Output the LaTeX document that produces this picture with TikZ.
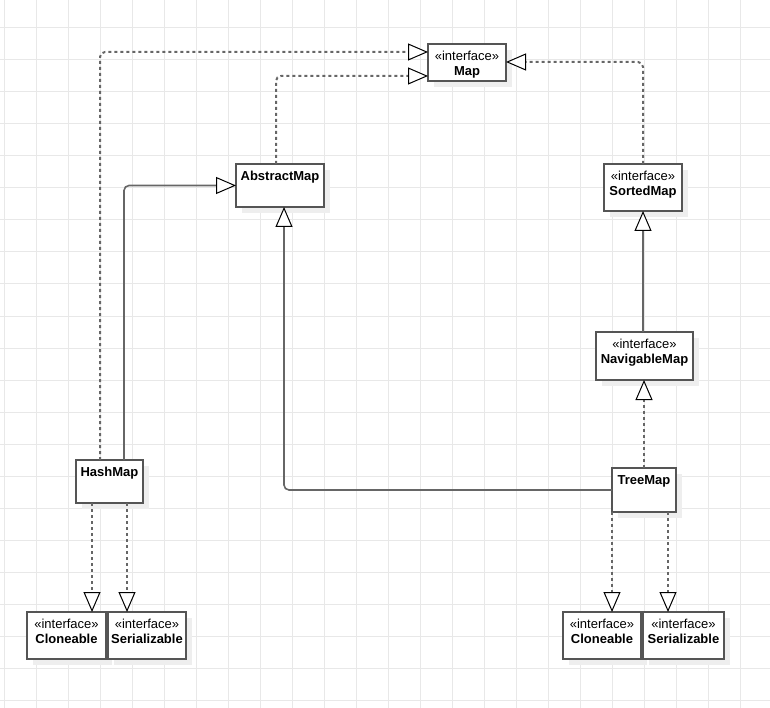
\documentclass[tikz,border=0pt]{standalone}
\usepackage{fontspec}
\setmainfont{Liberation Sans}
\usetikzlibrary{arrows.meta,shadows}
\definecolor{gridgray}{HTML}{E8E8E8}
\definecolor{linegray}{HTML}{666666}
\definecolor{boxgray}{HTML}{555555}
\definecolor{shadegray}{HTML}{EEEEEE}

\begin{document}
\begin{tikzpicture}[x=1pt, y=-1pt,
  every node/.style = {font=\fontsize{13}{14.5}\selectfont},
  cls/.style = {shape=rectangle, draw=boxgray, line width=1.6pt, fill=white,
    anchor=north west, inner sep=0pt, outer sep=0pt,
    drop shadow={shadow xshift=6pt, shadow yshift=-6pt, fill=shadegray, opacity=1}},
  txt/.style = {anchor=north, align=center, inner sep=0pt, yshift=-7pt},
  inherit/.style = {draw=linegray, line width=1.6pt, rounded corners=5pt,
    -{Triangle[length=20pt, width=17pt, fill=white, color=black, line width=1pt]}},
  realize/.style = {inherit, line width=2pt, dash pattern=on 3pt off 3pt}]
  \useasboundingbox (0,0) rectangle (770,708);
  \foreach \x in {4,36,...,772}
    \draw[gridgray, line width=1pt] (\x,0) -- (\x,708);
  \foreach \y in {28,60,...,700}
    \draw[gridgray, line width=1pt] (0,\y) -- (770,\y);

  \node[cls, minimum width=78, minimum height=37,
    label={[txt]north:{«interface»\\\textbf{Map}}}] (map) at (428,44) {};
  \node[cls, minimum width=88, minimum height=43,
    label={[txt]north:{\textbf{AbstractMap}}}] (abstract) at (236,164) {};
  \node[cls, minimum width=78, minimum height=47,
    label={[txt]north:{«interface»\\\textbf{SortedMap}}}] (sorted) at (604,164) {};
  \node[cls, minimum width=97, minimum height=48,
    label={[txt]north:{«interface»\\\textbf{NavigableMap}}}] (navigable) at (596,332) {};
  \node[cls, minimum width=67, minimum height=43,
    label={[txt]north:{\textbf{HashMap}}}] (hash) at (76,460) {};
  \node[cls, minimum width=64, minimum height=44,
    label={[txt]north:{\textbf{TreeMap}}}] (tree) at (612,468) {};
  \node[cls, minimum width=79, minimum height=47,
    label={[txt]north:{«interface»\\\textbf{Cloneable}}}] (hashclone) at (27,612) {};
  \node[cls, minimum width=78, minimum height=47,
    label={[txt]north:{«interface»\\\textbf{Serializable}}}] (hashser) at (108,612) {};
  \node[cls, minimum width=78, minimum height=47,
    label={[txt]north:{«interface»\\\textbf{Cloneable}}}] (treeclone) at (563,612) {};
  \node[cls, minimum width=81, minimum height=47,
    label={[txt]north:{«interface»\\\textbf{Serializable}}}] (treeser) at (643,612) {};

  \draw[realize] ([xshift=24pt]hash.north west) |- ([yshift=10.5pt]map.west);
  \draw[inherit] ([xshift=48pt]hash.north west) |- (abstract.west);
  \draw[realize] ([xshift=40pt]abstract.north west) |- ([yshift=-13.5pt]map.west);
  \draw[realize] (sorted.north) |- ([yshift=0.5pt]map.east);
  \draw[inherit] (sorted.south |- navigable.north) -- (sorted.south);
  \draw[realize] ([xshift=-0.5pt]navigable.south |- tree.north) coordinate (nt) -- (nt |- navigable.south);
  \draw[inherit] (tree.west) -| ([xshift=4pt]abstract.south);
  \draw[realize] ([xshift=16pt]hash.south west) coordinate (hc) -- (hc |- hashclone.north);
  \draw[realize] ([xshift=51pt]hash.south west) coordinate (hs) -- (hs |- hashser.north);
  \draw[realize] (tree.south west) coordinate (tc) -- (tc |- treeclone.north);
  \draw[realize] ([xshift=56pt]tree.south west) coordinate (ts) -- (ts |- treeser.north);
\end{tikzpicture}
\end{document}
